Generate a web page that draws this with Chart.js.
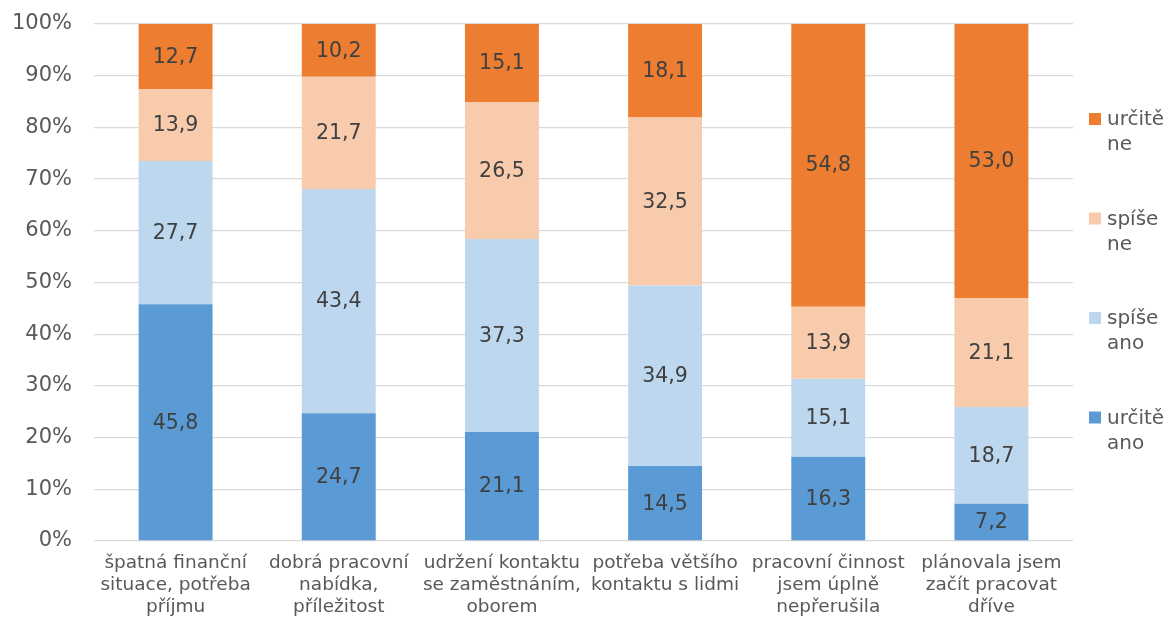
<!DOCTYPE html>
<html>
<head>
<meta charset="utf-8">
<script src="https://cdn.jsdelivr.net/npm/chart.js@4.4.1/dist/chart.umd.min.js"></script>
<style>
  html, body { margin: 0; padding: 0; background: #fff; }
  #wrap { width: 1168px; height: 621px; }
</style>
</head>
<body>
<div id="wrap"><canvas id="barChart" width="1168" height="621"></canvas></div>
<script>
const categories = [
  ['špatná finanční', 'situace, potřeba', 'příjmu'],
  ['dobrá pracovní', 'nabídka,', 'příležitost'],
  ['udržení kontaktu', 'se zaměstnáním,', 'oborem'],
  ['potřeba většího', 'kontaktu s lidmi'],
  ['pracovní činnost', 'jsem úplně', 'nepřerušila'],
  ['plánovala jsem', 'začít pracovat', 'dříve']
];
const seriesNames = ['určitě ano', 'spíše ano', 'spíše ne', 'určitě ne'];
const urciteAno = [45.8, 24.7, 21.1, 14.5, 16.3, 7.2];
const spiseAno = [27.7, 43.4, 37.3, 34.9, 15.1, 18.7];
const spiseNe = [13.9, 21.7, 26.5, 32.5, 13.9, 21.1];
const urciteNe = [12.7, 10.2, 15.1, 18.1, 54.8, 53.0];
const colors = ['#5b9bd5', '#bdd7ee', '#f8cbad', '#ed7d31'];

const fontFamily = '"DejaVu Sans", Verdana, sans-serif';

// value labels in the middle of every segment
const segmentLabels = {
  id: 'segmentLabels',
  afterDatasetsDraw(chart) {
    const ctx = chart.ctx;
    ctx.save();
    ctx.font = '20.5px ' + fontFamily;
    ctx.fillStyle = '#404040';
    ctx.textAlign = 'center';
    ctx.textBaseline = 'middle';
    chart.data.datasets.forEach((ds, i) => {
      chart.getDatasetMeta(i).data.forEach((bar, j) => {
        const txt = ds.data[j].toFixed(1).replace('.', ',');
        ctx.fillText(txt, bar.x, (bar.y + bar.base) / 2 + 1);
      });
    });
    ctx.restore();
  }
};

// legend on the right, labels broken in two lines
const sideLegend = {
  id: 'sideLegend',
  afterDraw(chart) {
    const ctx = chart.ctx;
    const ds = chart.data.datasets;
    ctx.save();
    ctx.font = '20px ' + fontFamily;
    ctx.textBaseline = 'middle';
    ctx.textAlign = 'left';
    for (let k = 0; k < ds.length; k++) {
      const d = ds[ds.length - 1 - k];
      const y = 119 + k * 99.5;
      ctx.fillStyle = d.backgroundColor;
      ctx.fillRect(1089, y - 6, 12, 12);
      ctx.fillStyle = '#595959';
      d.label.split(' ').forEach((w, n) => ctx.fillText(w, 1107, y + 1 + n * 25));
    }
    ctx.restore();
  }
};

const ctxBar = document.getElementById('barChart').getContext('2d');
const barChart = new Chart(ctxBar, {
  type: 'bar',
  data: {
    labels: categories,
    datasets: [urciteAno, spiseAno, spiseNe, urciteNe].map((vals, i) => ({
      label: seriesNames[i],
      data: vals,
      backgroundColor: colors[i],
      borderWidth: 0,
      barPercentage: 0.453,
      categoryPercentage: 1
    }))
  },
  options: {
    responsive: false,
    animation: false,
    layout: { padding: { top: 24, right: 95, left: 0, bottom: 0 } },
    plugins: {
      legend: { display: false },
      tooltip: { enabled: false }
    },
    scales: {
      x: {
        stacked: true,
        grid: { display: false, drawTicks: false },
        border: { display: false },
        ticks: {
          color: '#595959',
          font: { family: fontFamily, size: 18.5, lineHeight: 1.2 },
          padding: 11,
          maxRotation: 0,
          autoSkip: false
        },
        afterFit(scale) { scale.height = 80; scale.paddingTop = 0; scale.paddingBottom = 0; }
      },
      y: {
        stacked: true,
        min: 0,
        max: 100,
        grid: { color: '#d9d9d9', lineWidth: 1.3, drawTicks: false },
        border: { display: false },
        ticks: {
          stepSize: 10,
          color: '#595959',
          font: { family: fontFamily, size: 21 },
          padding: 22,
          callback: v => v + '%'
        },
        afterFit(scale) { scale.width = 94; scale.paddingTop = 0; scale.paddingBottom = 0; }
      }
    }
  },
  plugins: [segmentLabels, sideLegend]
});
</script>
</body>
</html>
